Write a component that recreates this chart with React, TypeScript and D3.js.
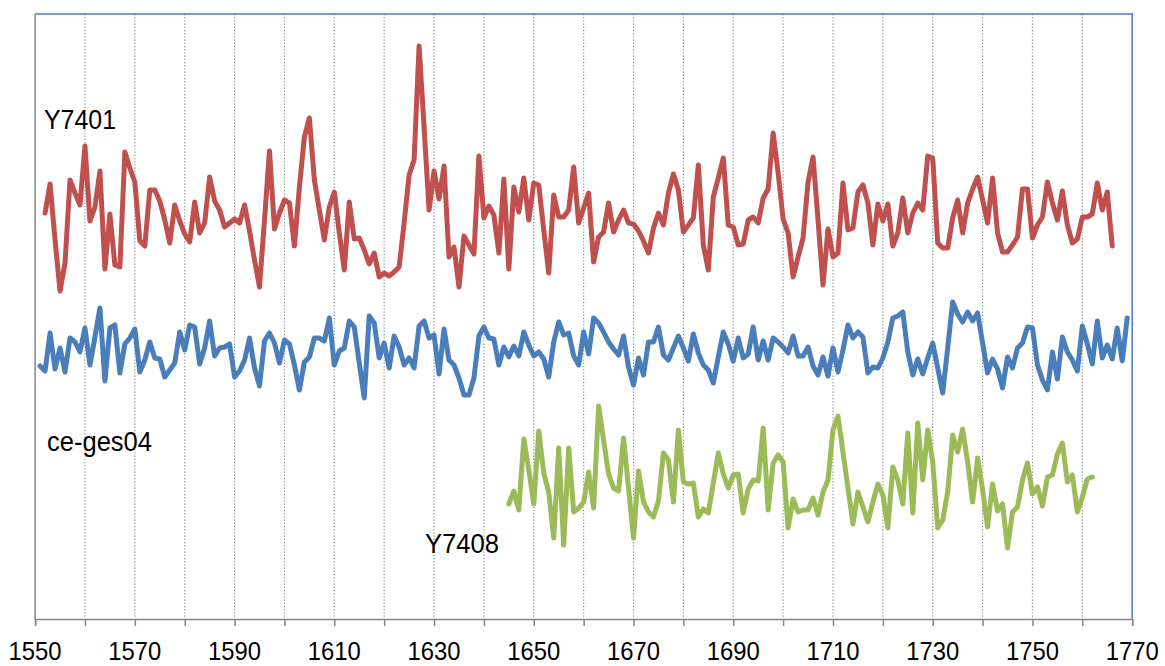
import React, { useEffect, useRef } from "react";
import * as d3 from "d3";

// x axis
const xDomain: [number, number] = [1550, 1770];
const tickYears = d3.range(1550, 1771, 10);
const labelYears = d3.range(1550, 1771, 20);

// Series: Y7401 (red), starting 1552
const redStart = 1552;
const redValues = [
  406, 435, 379, 328, 356, 439, 426, 414, 473, 398, 412, 448, 350, 405, 354, 352, 467, 451,
  437, 378, 373, 429, 429, 418, 399, 376, 414, 398, 385, 377, 417, 386, 396, 442, 418, 409,
  392, 396, 400, 396, 414, 388, 359, 332, 399, 468, 390, 406, 419, 416, 373, 432, 482, 501,
  439, 409, 379, 412, 427, 386, 349, 417, 380, 381, 369, 355, 366, 342, 346, 343, 347, 352,
  396, 444, 459, 573, 492, 409, 448, 420, 453, 362, 372, 332, 383, 374, 365, 463, 401, 413,
  404, 366, 440, 350, 432, 407, 441, 399, 436, 434, 389, 346, 424, 402, 402, 409, 452, 396,
  411, 426, 357, 382, 387, 416, 387, 399, 409, 396, 395, 388, 378, 366, 391, 406, 394, 426,
  445, 429, 387, 394, 401, 454, 374, 349, 422, 441, 461, 394, 392, 374, 375, 399, 402, 396,
  421, 430, 486, 446, 400, 386, 342, 362, 381, 437, 462, 399, 334, 390, 362, 366, 436, 389,
  391, 427, 434, 416, 374, 415, 398, 415, 373, 386, 421, 386, 406, 416, 409, 463, 461, 376,
  371, 371, 401, 419, 386, 416, 430, 442, 419, 396, 441, 386, 367, 367, 374, 382, 430, 430,
  381, 394, 402, 437, 416, 399, 428, 394, 376, 380, 402, 402, 405, 436, 409, 427, 373,
];

// Series: ce-ges04 (blue), starting 1551
const blueStart = 1551;
const blueValues = [
  253, 248, 286, 250, 271, 247, 281, 277, 267, 291, 254, 282, 311, 238, 291, 294, 246, 275,
  281, 290, 247, 259, 277, 261, 260, 242, 249, 256, 287, 269, 294, 292, 255, 271, 298, 263,
  271, 272, 275, 242, 248, 259, 281, 251, 233, 278, 286, 276, 256, 279, 275, 254, 229, 257,
  262, 281, 281, 278, 301, 254, 268, 271, 298, 292, 256, 221, 303, 296, 261, 276, 251, 283,
  272, 254, 261, 251, 293, 298, 281, 284, 245, 290, 259, 254, 241, 224, 224, 241, 283, 292,
  281, 280, 254, 272, 262, 273, 263, 287, 274, 263, 267, 260, 242, 277, 297, 284, 286, 263,
  254, 287, 265, 301, 296, 287, 277, 270, 264, 283, 252, 234, 261, 244, 277, 277, 292, 264,
  259, 271, 283, 271, 258, 285, 266, 254, 249, 236, 262, 287, 275, 258, 281, 261, 265, 292,
  259, 278, 259, 281, 277, 272, 266, 283, 263, 263, 272, 253, 244, 262, 243, 271, 247, 269,
  294, 281, 287, 282, 246, 252, 251, 261, 277, 301, 303, 307, 267, 244, 260, 245, 261, 276,
  251, 226, 271, 317, 305, 297, 307, 298, 306, 276, 246, 260, 250, 231, 262, 251, 271, 276,
  292, 291, 254, 239, 229, 267, 240, 282, 267, 259, 248, 293, 275, 255, 298, 261, 274, 260,
  291, 258, 301,
];

// Series: Y7408 (green), starting 1645
const greenStart = 1645;
const greenValues = [
  115, 128, 109, 180, 149, 115, 188, 146, 127, 81, 171, 74, 171, 107, 111, 117, 147, 111,
  213, 179, 145, 131, 128, 181, 131, 81, 148, 117, 107, 102, 118, 166, 159, 117, 189, 137,
  135, 136, 102, 110, 106, 136, 166, 145, 131, 144, 145, 106, 130, 139, 138, 191, 109, 156,
  164, 157, 91, 120, 107, 109, 109, 121, 104, 127, 139, 189, 203, 167, 131, 95, 127, 112,
  97, 117, 135, 124, 91, 152, 139, 115, 186, 106, 196, 139, 189, 157, 91, 99, 127, 184,
  167, 190, 157, 117, 161, 129, 92, 135, 108, 115, 71, 107, 112, 139, 156, 125, 132, 113,
  142, 144, 165, 176, 137, 144, 107, 122, 140, 142,
];

const seriesNames = ["Y7401", "ce-ges04", "Y7408"];
const seriesColors = ["#C0504D", "#4A7EBB", "#9BBB59"];

const W = 1165;
const H = 666;
const plot = { left: 35.1, right: 1132.2, top: 14, bottom: 619 };

export default function App() {
  const ref = useRef<SVGSVGElement | null>(null);

  useEffect(() => {
    const svg = d3.select(ref.current);
    svg.selectAll("*").remove();

    const x = d3.scaleLinear().domain(xDomain).range([plot.left, plot.right]);
    const y = d3.scaleLinear().domain([0, 605]).range([plot.bottom, plot.top]);

    svg.append("rect").attr("width", W).attr("height", H).attr("fill", "#ffffff");

    // gridlines
    svg
      .append("g")
      .selectAll("line")
      .data(tickYears.filter((t) => t > xDomain[0] && t < xDomain[1]))
      .join("line")
      .attr("x1", (d) => x(d))
      .attr("x2", (d) => x(d))
      .attr("y1", plot.top)
      .attr("y2", plot.bottom)
      .attr("stroke", "#8c8c8c")
      .attr("stroke-width", 1.2)
      .attr("stroke-dasharray", "1.2,2");

    // top & right border (blue)
    svg
      .append("path")
      .attr("d", `M${plot.left},${plot.top}H${plot.right}V${plot.bottom}`)
      .attr("fill", "none")
      .attr("stroke", "#4A7EBB")
      .attr("stroke-width", 1.5);

    // axes (gray)
    svg
      .append("line")
      .attr("x1", plot.left)
      .attr("x2", plot.left)
      .attr("y1", plot.top)
      .attr("y2", plot.bottom)
      .attr("stroke", "#868686")
      .attr("stroke-width", 1.5);

    const xAxis = d3
      .axisBottom(x)
      .tickValues(tickYears)
      .tickSize(7)
      .tickFormat(() => "");
    const gx = svg
      .append("g")
      .attr("transform", `translate(0,${plot.bottom})`)
      .call(xAxis);
    gx.select(".domain").attr("stroke", "#868686").attr("stroke-width", 1.5);
    gx.selectAll(".tick line").attr("stroke", "#868686").attr("stroke-width", 1.5);

    svg
      .append("g")
      .selectAll("text")
      .data(labelYears)
      .join("text")
      .attr("x", (d) => x(d))
      .attr("y", 660)
      .attr("text-anchor", "middle")
      .attr("font-family", "'Liberation Sans', Arial, sans-serif")
      .attr("font-size", 25)
      .attr("textLength", 53)
      .attr("lengthAdjust", "spacingAndGlyphs")
      .attr("fill", "#000")
      .text((d) => String(d));

    const line = d3
      .line<{ year: number; v: number }>()
      .x((d) => x(d.year))
      .y((d) => y(d.v));

    const series = [
      { start: redStart, values: redValues },
      { start: blueStart, values: blueValues },
      { start: greenStart, values: greenValues },
    ];

    series.forEach((s, i) => {
      const data = s.values.map((v, k) => ({ year: s.start + k, v }));
      svg
        .append("path")
        .datum(data)
        .attr("d", line)
        .attr("fill", "none")
        .attr("stroke", seriesColors[i])
        .attr("stroke-width", 5)
        .attr("stroke-linejoin", "round")
        .attr("stroke-linecap", "round");
    });

    const labels = [
      { text: seriesNames[0], x: 44, y: 129, w: 72 },
      { text: seriesNames[1], x: 47, y: 451, w: 105 },
      { text: seriesNames[2], x: 425, y: 553, w: 74 },
    ];
    svg
      .append("g")
      .selectAll("text")
      .data(labels)
      .join("text")
      .attr("x", (d) => d.x)
      .attr("y", (d) => d.y)
      .attr("font-family", "'Liberation Sans', Arial, sans-serif")
      .attr("font-size", 27)
      .attr("textLength", (d) => d.w)
      .attr("lengthAdjust", "spacingAndGlyphs")
      .attr("fill", "#000")
      .text((d) => d.text);
  }, []);

  return (
    <svg
      ref={ref}
      width={W}
      height={H}
      style={{ position: "absolute", left: 0, top: 0, display: "block" }}
    />
  );
}
